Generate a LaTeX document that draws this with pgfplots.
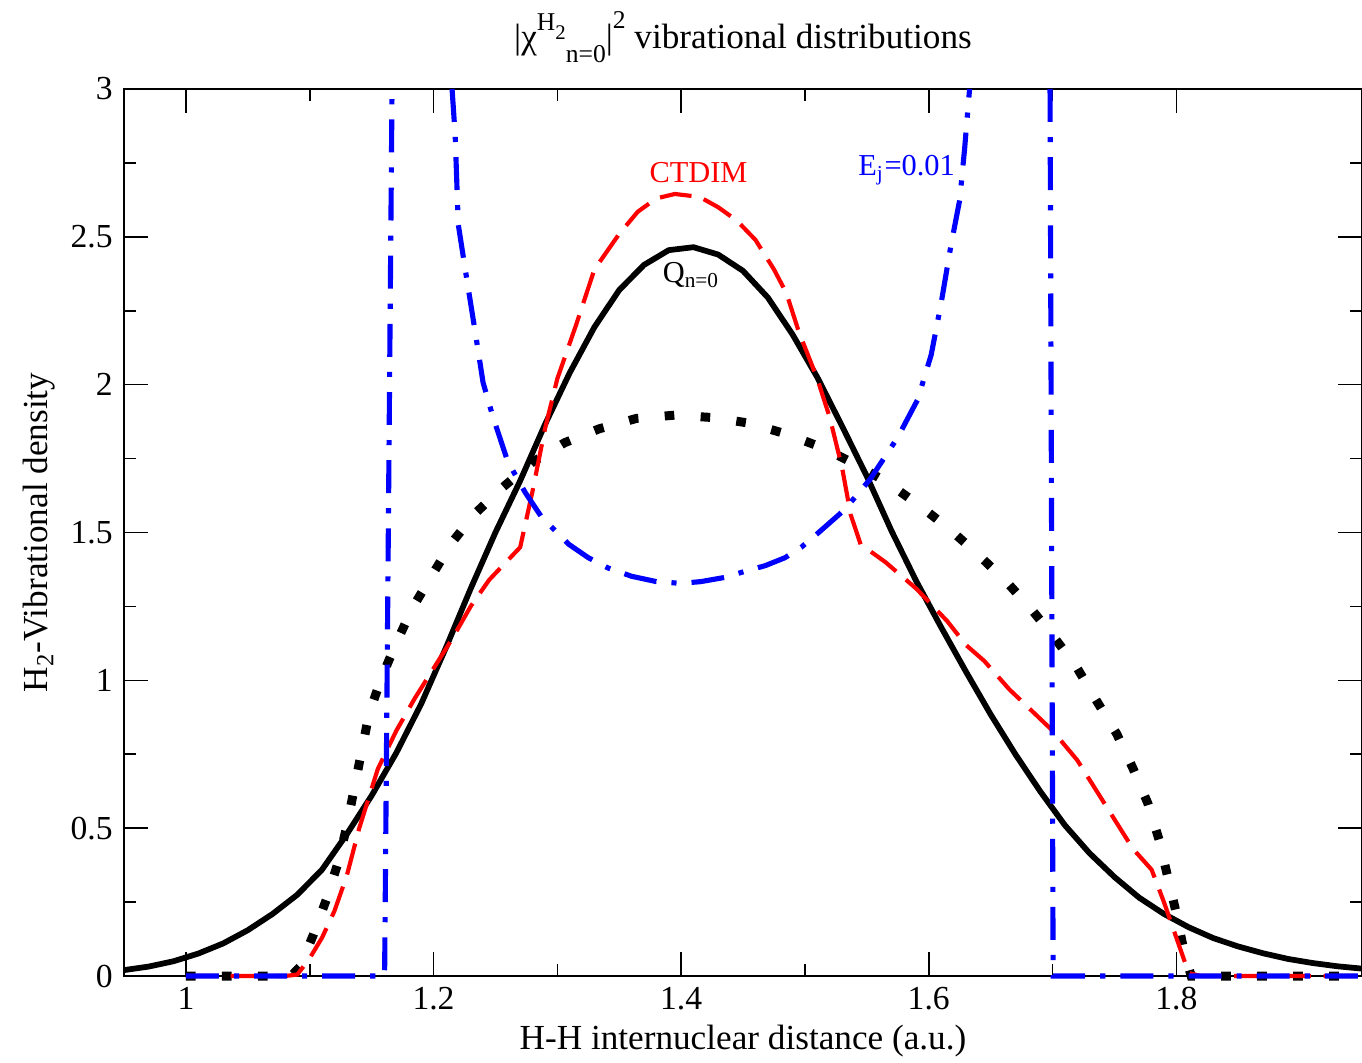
\documentclass[border=0pt]{standalone}
\usepackage{fontspec}
\setmainfont{Liberation Serif}
\usepackage{pgfplots}
\pgfplotsset{compat=1.18}
\begin{document}
\begin{tikzpicture}
\begin{axis}[
  at={(0,0)}, anchor=south west,
  scale only axis, width=386.875pt, height=277.1875pt,
  xmin=0.95, xmax=1.95, ymin=0, ymax=3,
  xtick={1,1.2,1.4,1.6,1.8}, minor x tick num=1,
  ytick={0,0.5,1,1.5,2,2.5,3}, minor y tick num=1,
  tick align=inside,
  major tick length=7.5pt, minor tick length=3.75pt,
  axis line style={line width=0.8pt},
  every tick/.style={black, line width=0.5pt},
  /pgf/number format/assume math mode=true,
  ticklabel style={font=\fontsize{10.5}{12}\selectfont},
  clip=false,
  unbounded coords=jump,
  every axis title/.style={at={([yshift=12.8pt]axis description cs:0.5,1)}, anchor=base, font=\fontsize{11}{13}\selectfont},
  every axis x label/.style={at={([yshift=-23.1pt]axis description cs:0.5,0)}, anchor=base, font=\fontsize{11}{13}\selectfont},
  every axis y label/.style={at={([xshift=-23.75pt]axis description cs:0,0.5)}, rotate=90, anchor=base, font=\fontsize{11}{13}\selectfont},
  title={|χ\raisebox{5.6pt}{\fontsize{8}{9}\selectfont H\raisebox{-3pt}{\fontsize{6.5}{7}\selectfont 2}}\raisebox{-4.4pt}{\fontsize{8}{9}\selectfont n=0}|\raisebox{6.2pt}{\fontsize{8}{9}\selectfont 2} vibrational distributions},
  xlabel={H-H internuclear distance (a.u.)},
  ylabel={H\textsubscript{2}-Vibrational density},
]
% Q_{n=0}
\addplot[black, line width=1.8pt, line join=round] coordinates {
(0.95,0.020) (0.97,0.032) (0.99,0.050) (1.01,0.076) (1.03,0.110) (1.05,0.155)
(1.07,0.210) (1.09,0.275) (1.11,0.360) (1.13,0.480) (1.15,0.610) (1.17,0.755)
(1.19,0.920) (1.21,1.110) (1.23,1.310) (1.25,1.500) (1.27,1.675) (1.29,1.865)
(1.31,2.040) (1.33,2.195) (1.35,2.320) (1.37,2.405) (1.39,2.455) (1.41,2.465)
(1.43,2.440) (1.45,2.385) (1.47,2.295) (1.49,2.170) (1.51,2.025) (1.53,1.860)
(1.55,1.690) (1.57,1.505) (1.59,1.335) (1.61,1.180) (1.63,1.030) (1.65,0.885)
(1.67,0.750) (1.69,0.625) (1.71,0.510) (1.73,0.415) (1.75,0.335) (1.77,0.265)
(1.79,0.210) (1.81,0.165) (1.83,0.128) (1.85,0.100) (1.87,0.077) (1.89,0.058)
(1.91,0.044) (1.93,0.033) (1.95,0.025)
};
% dotted
\addplot[black, line width=2.8pt, line cap=butt, dash pattern=on 3pt off 8.25pt] coordinates {
(1.00,0) (1.03,0) (1.06,0) (1.085,0) (1.092,0.03) (1.103,0.14) (1.114,0.265)
(1.123,0.385) (1.130,0.507) (1.136,0.635) (1.142,0.762) (1.148,0.888) (1.158,1.009)
(1.170,1.127) (1.183,1.245) (1.199,1.357) (1.215,1.467) (1.234,1.566) (1.256,1.653)
(1.280,1.738) (1.306,1.804) (1.334,1.851) (1.364,1.886) (1.395,1.897) (1.425,1.889)
(1.455,1.870) (1.485,1.833) (1.513,1.789) (1.541,1.731) (1.567,1.668) (1.593,1.590)
(1.617,1.511) (1.640,1.425) (1.662,1.337) (1.683,1.240) (1.702,1.142) (1.720,1.041)
(1.736,0.928) (1.752,0.818) (1.765,0.702) (1.777,0.584) (1.786,0.462) (1.793,0.336)
(1.800,0.212) (1.806,0.088) (1.812,0) (1.85,0) (1.90,0) (1.95,0)
};
% CTDIM
\addplot[red, line width=1.3pt, dash pattern=on 10pt off 4pt] coordinates {
(1.00,0) (1.02,0) (1.04,0) (1.06,0) (1.08,0) (1.09,0.005) (1.10,0.06) (1.11,0.13)
(1.12,0.22) (1.13,0.34) (1.14,0.50) (1.155,0.70) (1.17,0.83) (1.185,0.94) (1.20,1.04)
(1.215,1.14) (1.23,1.25) (1.245,1.34) (1.27,1.45) (1.28,1.64) (1.29,1.85) (1.30,2.02)
(1.315,2.20) (1.33,2.39) (1.35,2.51) (1.365,2.585) (1.38,2.63) (1.395,2.645)
(1.415,2.635) (1.43,2.60) (1.445,2.555) (1.46,2.49) (1.475,2.39) (1.485,2.31)
(1.495,2.18) (1.51,2.02) (1.52,1.89) (1.53,1.72) (1.537,1.56) (1.545,1.46)
(1.565,1.40) (1.59,1.31) (1.615,1.20) (1.63,1.12) (1.645,1.065) (1.665,0.97)
(1.685,0.89) (1.70,0.83) (1.72,0.73) (1.735,0.63) (1.75,0.53) (1.765,0.43)
(1.78,0.36) (1.79,0.25) (1.80,0.13) (1.81,0.01) (1.82,0) (1.85,0) (1.88,0)
(1.91,0) (1.95,0)
};
% E_j = 0.01
\addplot[blue, line width=1.6pt, dash pattern=on 10.3pt off 4.7pt on 1.6pt off 4.7pt] coordinates {
(1.00,0) (1.05,0) (1.10,0) (1.1605,0) (1.1665,3) (1.19,nan)
(1.215,3.0) (1.2175,2.844) (1.220,2.542) (1.226,2.380) (1.234,2.170) (1.240,2.008)
(1.248,1.891) (1.260,1.740) (1.274,1.636) (1.287,1.554) (1.309,1.461) (1.325,1.415)
(1.341,1.380) (1.36,1.352) (1.38,1.334) (1.40,1.328) (1.416,1.334) (1.435,1.348)
(1.451,1.368) (1.468,1.388) (1.484,1.415) (1.497,1.450) (1.510,1.496) (1.532,1.577)
(1.553,1.682) (1.575,1.822) (1.591,1.949) (1.602,2.101) (1.610,2.275) (1.618,2.472)
(1.625,2.624) (1.629,2.798) (1.633,3.0) (1.66,nan)
(1.698,3) (1.7005,0) (1.75,0) (1.80,0) (1.85,0) (1.90,0) (1.95,0)
};
\node[anchor=base west, inner sep=0pt, text=red, font=\fontsize{9.5}{11}\selectfont] at (axis cs:1.374,2.685) {CTDIM};
\node[anchor=base west, inner sep=0pt, font=\fontsize{9.5}{11}\selectfont] at (axis cs:1.3847,2.344) {Q\textsubscript{n=0}};
\node[anchor=base west, inner sep=0pt, text=blue, font=\fontsize{9.5}{11}\selectfont] at (axis cs:1.5427,2.706) {E\textsubscript{j}=0.01};
\end{axis}
\pgfresetboundingbox
\useasboundingbox (-38.75pt,-26.875pt) rectangle (386.875pt,305pt);
\end{tikzpicture}
\end{document}
